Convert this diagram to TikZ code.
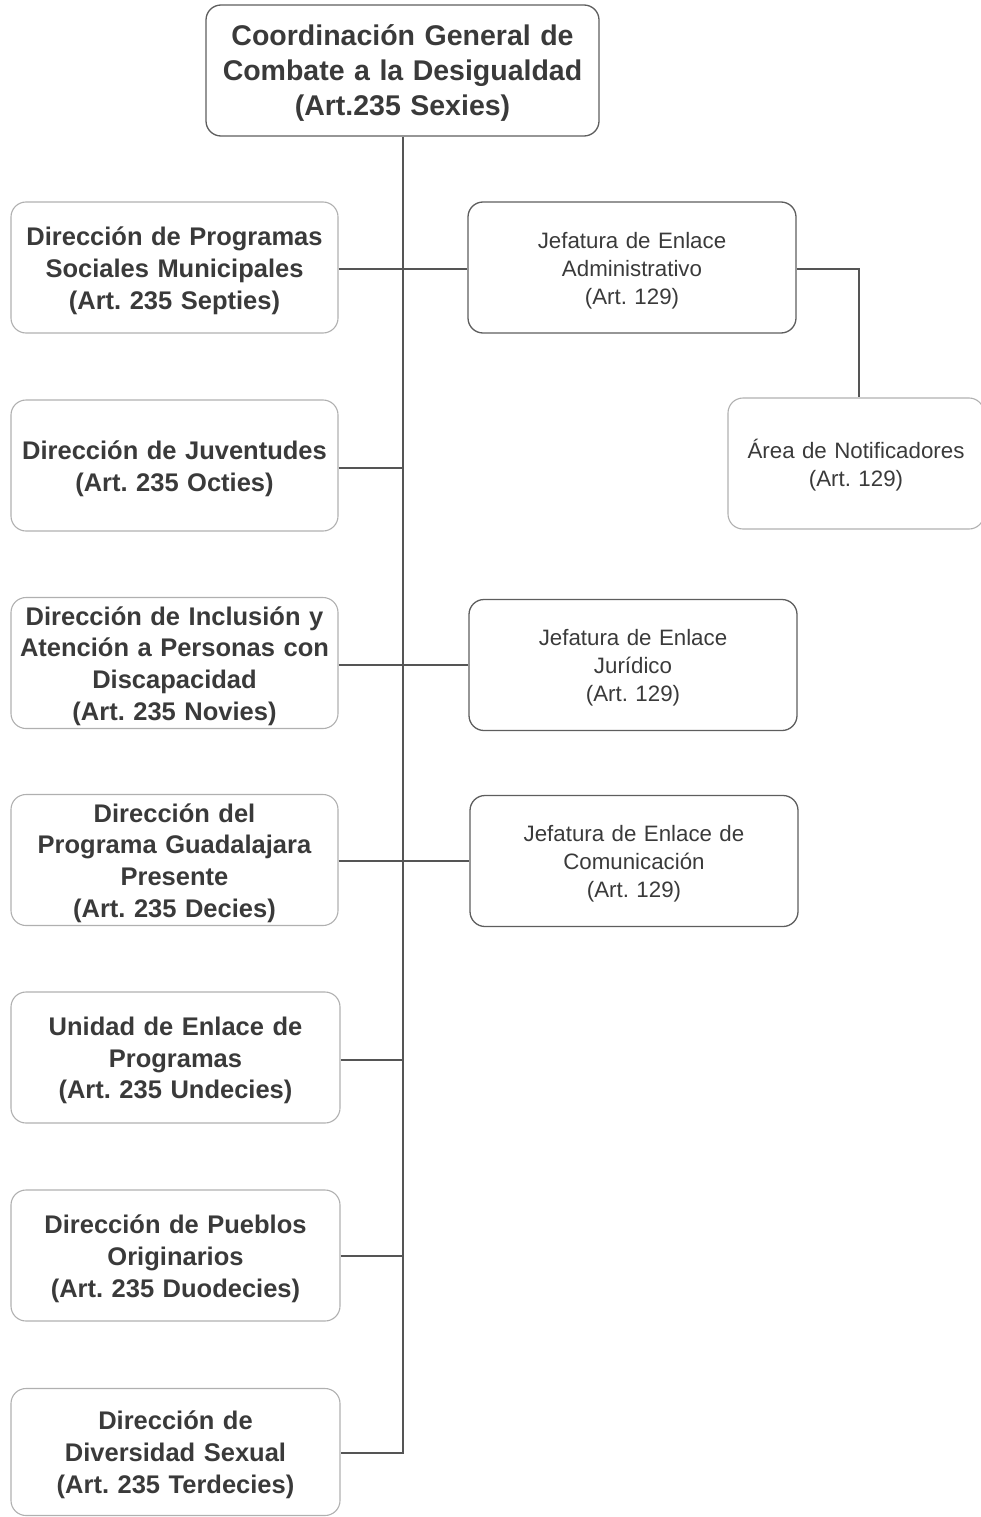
\documentclass[tikz,border=0pt]{standalone}
\usepackage{fontspec}
\setmainfont{Liberation Sans}
\frenchspacing
\definecolor{txt}{HTML}{3A3A3A}
\definecolor{lin}{HTML}{555555}
\definecolor{bdark}{HTML}{5E5E5E}
\definecolor{blight}{HTML}{B0B0B0}
\begin{document}
\begin{tikzpicture}[x=1pt,y=-1pt,
  topbox/.style={draw=bdark,line width=1.3pt,rounded corners=15pt,minimum width=393pt,minimum height=131pt,inner sep=0pt},
  toptext/.style={text width=380pt,align=center,text=txt,font=\fontsize{28.5}{35}\selectfont\bfseries,inner sep=0pt,yshift=-2.5pt},
  leftbox/.style={draw=blight,line width=1.1pt,rounded corners=15pt,minimum width=327pt,minimum height=131pt,inner sep=0pt},
  lefttext/.style={text width=325pt,align=center,text=txt,font=\fontsize{25.5}{31.8}\selectfont\bfseries,inner sep=0pt,yshift=-3pt},
  rightbox/.style={draw=bdark,line width=1.3pt,rounded corners=15pt,minimum width=328pt,minimum height=131pt,inner sep=0pt},
  righttext/.style={text width=320pt,align=center,text=txt,font=\fontsize{22.3}{28}\selectfont,inner sep=0pt,yshift=-3pt},
  lightbox/.style={rightbox,draw=blight,line width=1.1pt,minimum width=256pt},
  conn/.style={draw=lin,line width=1.4pt}]
\useasboundingbox (0,0) rectangle (980,1517);
\node[topbox] (top) at (402.5,70.5) {};
\node[toptext] (topt) at (top.center) {Coordinación General de\\Combate a la Desigualdad\\(Art.235 Sexies)};
\node[leftbox] (l1) at (174.5,267.5) {};
\node[lefttext] (l1t) at (l1.center) {Dirección de Programas\\Sociales Municipales\\(Art. 235 Septies)};
\node[leftbox] (l2) at (174.5,465.5) {};
\node[lefttext] (l2t) at (l2.center) {Dirección de Juventudes\\(Art. 235 Octies)};
\node[leftbox] (l3) at (174.5,663) {};
\node[lefttext] (l3t) at (l3.center) {Dirección de Inclusión y\\Atención a Personas con\\Discapacidad\\(Art. 235 Novies)};
\node[leftbox] (l4) at (174.5,860) {};
\node[lefttext] (l4t) at (l4.center) {Dirección del\\Programa Guadalajara\\Presente\\(Art. 235 Decies)};
\node[leftbox,minimum width=329pt] (l5) at (175.5,1057.5) {};
\node[lefttext] (l5t) at (l5.center) {Unidad de Enlace de\\Programas\\(Art. 235 Undecies)};
\node[leftbox,minimum width=329pt] (l6) at (175.5,1255.5) {};
\node[lefttext] (l6t) at (l6.center) {Dirección de Pueblos\\Originarios\\(Art. 235 Duodecies)};
\node[leftbox,minimum width=329pt,minimum height=127pt] (l7) at (175.5,1452) {};
\node[lefttext] (l7t) at (l7.center) {Dirección de\\Diversidad Sexual\\(Art. 235 Terdecies)};
\node[rightbox] (r1) at (632,267.5) {};
\node[righttext] (r1t) at (r1.center) {Jefatura de Enlace\\Administrativo\\(Art. 129)};
\node[lightbox] (r2) at (856,463.5) {};
\node[righttext,text width=250pt,yshift=1pt] (r2t) at (r2.center) {Área de Notificadores\\(Art. 129)};
\node[rightbox] (r3) at (633,665) {};
\node[righttext] (r3t) at (r3.center) {Jefatura de Enlace\\Jurídico\\(Art. 129)};
\node[rightbox] (r4) at (634,861) {};
\node[righttext] (r4t) at (r4.center) {Jefatura de Enlace de\\Comunicación\\(Art. 129)};
\coordinate (tb) at (403,1453);
\coordinate (j1) at (403,269);
\coordinate (j2) at (403,468);
\coordinate (j3) at (403,665);
\coordinate (j4) at (403,861);
\coordinate (j5) at (403,1060);
\coordinate (j6) at (403,1256);
\coordinate (nv) at (859,269);
\draw[conn] (top.south -| tb) -- (tb) -- (l7.east |- tb);
\draw[conn] (l1.east |- j1) -- (r1.west |- j1);
\draw[conn] (l2.east |- j2) -- (j2);
\draw[conn] (l3.east |- j3) -- (r3.west |- j3);
\draw[conn] (l4.east |- j4) -- (r4.west |- j4);
\draw[conn] (l5.east |- j5) -- (j5);
\draw[conn] (l6.east |- j6) -- (j6);
\draw[conn] (r1.east |- nv) -- (nv) -- (r2.north -| nv);
\end{tikzpicture}
\end{document}
